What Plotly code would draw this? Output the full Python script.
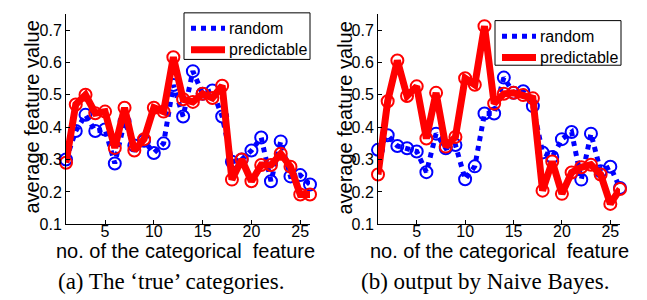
import plotly.graph_objects as go

features = list(range(1, 27))

true_random = [0.30, 0.388, 0.438, 0.388, 0.393, 0.288, 0.418, 0.343, 0.358, 0.32,
               0.35, 0.53, 0.433, 0.573, 0.503, 0.513, 0.433, 0.293, 0.30, 0.328,
               0.368, 0.233, 0.356, 0.248, 0.252, 0.223]
true_predictable = [0.29, 0.47, 0.50, 0.443, 0.448, 0.336, 0.46, 0.328, 0.363, 0.46,
                    0.448, 0.616, 0.486, 0.478, 0.503, 0.49, 0.528, 0.238, 0.30, 0.233,
                    0.283, 0.283, 0.318, 0.278, 0.192, 0.192]

nb_random = [0.33, 0.375, 0.342, 0.335, 0.325, 0.261, 0.38, 0.335, 0.345, 0.239,
             0.279, 0.442, 0.442, 0.553, 0.506, 0.511, 0.465, 0.322, 0.308, 0.363,
             0.385, 0.238, 0.38, 0.264, 0.278, 0.212]
nb_predictable = [0.254, 0.48, 0.606, 0.496, 0.526, 0.365, 0.506, 0.34, 0.37, 0.551,
                  0.531, 0.712, 0.473, 0.503, 0.506, 0.499, 0.489, 0.204, 0.294, 0.194,
                  0.26, 0.276, 0.284, 0.254, 0.163, 0.209]

x_ticks = [5, 10, 15, 20, 25]
y_ticks = [0.1, 0.2, 0.3, 0.4, 0.5, 0.6, 0.7]
series_names = ["random", "predictable"]
captions = ["(a) The \u2018true\u2019 categories.", "(b) output by Naive Bayes."]
x_title = "no. of the categorical\u00a0 feature"
y_title = "average feature value"

BLUE = "#0000ff"
RED = "#ff0000"
W, H = 647, 300

fig = go.Figure()

panels = [
    (true_random, true_predictable, "x", "y"),
    (nb_random, nb_predictable, "x2", "y2"),
]
for rnd, pred, xa, ya in panels:
    fig.add_trace(go.Scatter(x=features, y=rnd, mode="lines", name=series_names[0],
                             line=dict(color=BLUE, width=5, dash="5px,5px"),
                             xaxis=xa, yaxis=ya, cliponaxis=False, showlegend=False))
    fig.add_trace(go.Scatter(x=features, y=rnd, mode="markers", showlegend=False,
                             marker=dict(symbol="circle-open", size=12, color=BLUE,
                                         line=dict(width=2, color=BLUE)),
                             xaxis=xa, yaxis=ya, cliponaxis=False))
    fig.add_trace(go.Scatter(x=features, y=pred, mode="lines", name=series_names[1],
                             line=dict(color=RED, width=7),
                             xaxis=xa, yaxis=ya, cliponaxis=False, showlegend=False))
    fig.add_trace(go.Scatter(x=features, y=pred, mode="markers", showlegend=False,
                             marker=dict(symbol="circle-open", size=12, color=RED,
                                         line=dict(width=2, color=RED)),
                             xaxis=xa, yaxis=ya, cliponaxis=False))

font = dict(family="Liberation Sans, Arial, sans-serif", color="black")

def xaxis(domain, anchor):
    return dict(domain=domain, anchor=anchor, range=[1, 26], tickvals=x_ticks,
                ticks="inside", ticklen=4, tickcolor="black", showline=True,
                linecolor="black", linewidth=1, showgrid=False, zeroline=False,
                tickfont=dict(size=16, **font), mirror=False, ticklabelstandoff=-8)

def yaxis(domain, anchor):
    return dict(domain=domain, anchor=anchor, range=[0.1, 0.75], tickvals=y_ticks,
                ticktext=[f"{v:.1f}" for v in y_ticks],
                ticks="inside", ticklen=4, tickcolor="black", showline=True,
                linecolor="black", linewidth=1, showgrid=False, zeroline=False,
                tickfont=dict(size=16, **font), ticklabelstandoff=0)

ydom = [(300 - 223) / H, (300 - 6) / H]
fig.update_layout(
    width=W, height=H,
    margin=dict(l=0, r=0, t=0, b=0),
    paper_bgcolor="white", plot_bgcolor="white",
    xaxis=xaxis([58 / W, 302 / W], "y"),
    yaxis=yaxis(ydom, "x"),
    xaxis2=xaxis([370 / W, 612 / W], "y2"),
    yaxis2=yaxis(ydom, "x2"),
    showlegend=False,
)

def px(x):
    return x / W

def py(y):
    return 1 - y / H

ann = []
shapes = []
for cx, ycx in [(177.5, 24), (491.5, 337)]:
    ann.append(dict(text=x_title, x=px(cx), y=py(250), xref="paper", yref="paper",
                    showarrow=False, xanchor="center", yanchor="middle",
                    font=dict(size=20, **font)))
    ann.append(dict(text=y_title, x=px(ycx), y=py(113), xref="paper", yref="paper",
                    showarrow=False, xanchor="center", yanchor="middle", textangle=-90,
                    font=dict(size=20, **font)))
for cap, cap_x in zip(captions, [163, 477]):
    ann.append(dict(text=cap, x=px(cap_x), y=py(282), xref="paper", yref="paper",
                    showarrow=False, xanchor="center", yanchor="middle",
                    font=dict(size=23, family="Liberation Serif, Times New Roman, serif",
                              color="black")))

# custom legend boxes (one per panel): box left, top, right, bottom
legend_boxes = [(176, 5, 302, 53), (487, 13, 613, 59)]
for (l, t, r, b) in legend_boxes:
    shapes.append(dict(type="rect", xref="paper", yref="paper",
                       x0=px(l), x1=px(r), y0=py(b), y1=py(t),
                       line=dict(color="black", width=1), fillcolor="white", layer="above"))
    rows = [(t + 16, BLUE, 5, "5px,5px", series_names[0]),
            (t + 38, RED, 7, "solid", series_names[1])]
    for (yy, col, lw, dash, name) in rows:
        shapes.append(dict(type="line", xref="paper", yref="paper",
                           x0=px(l + 7), x1=px(l + 41), y0=py(yy), y1=py(yy),
                           line=dict(color=col, width=lw, dash=dash), layer="above"))
        ann.append(dict(text=name, x=px(l + 43), y=py(yy), xref="paper", yref="paper",
                        showarrow=False, xanchor="left", yanchor="middle",
                        font=dict(size=16, **font)))
fig.update_layout(annotations=ann, shapes=shapes)

fig.write_html("out.html")
